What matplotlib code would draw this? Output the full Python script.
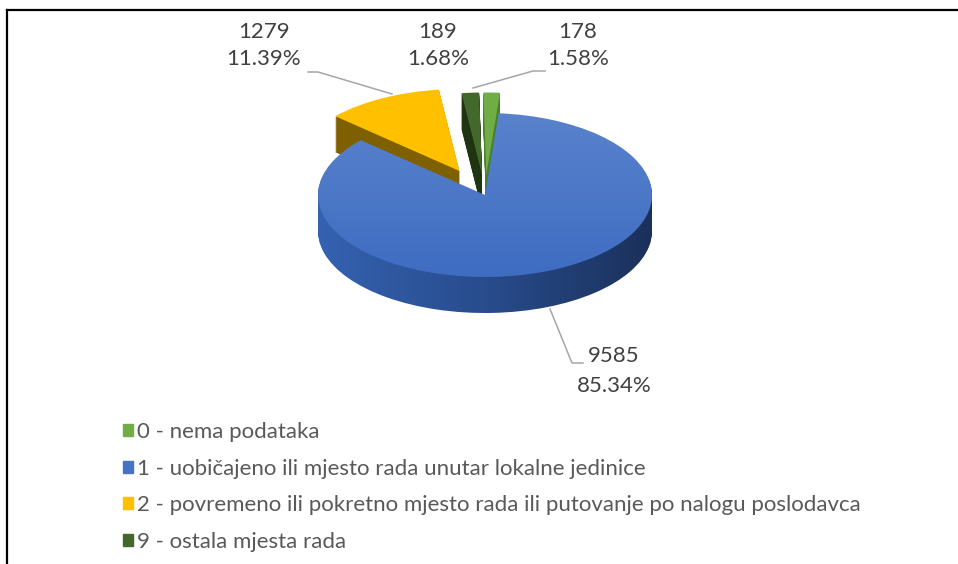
import numpy as np
import matplotlib
matplotlib.use("Agg")
import matplotlib.pyplot as plt
from matplotlib.colors import LinearSegmentedColormap

# data
categories = ["0 - nema podataka",
              "1 - uobičajeno ili mjesto rada unutar lokalne jedinice",
              "2 - povremeno ili pokretno mjesto rada ili putovanje po nalogu poslodavca",
              "9 - ostala mjesta rada"]
counts = [178, 9585, 1279, 189]
percents = ["1.58%", "85.34%", "11.39%", "1.68%"]

top_colors = ["#70ad47", "#4472c4", "#ffc000", "#43682b"]
side_colors = ["#4a7f2c", "#2b4f8f", "#7f6000", "#1f3512"]
explode = [0.25, 0, 0.33, 0.25]

W, H = 958, 564
plt.rcParams['font.family'] = ['Lato', 'DejaVu Sans']

fig = plt.figure(figsize=(W / 100, H / 100), dpi=100)
ax = fig.add_axes([0, 0, 1, 1])

# pie centre and radii in pixels
cx, cy, rx, ry = 485, 195, 167, 82
depth = 36 / ry
n_layers = 36
start = 91

side_cmap = LinearSegmentedColormap.from_list("side", ["#3563b3", "#284c8c", "#1a2f58"])
top_cmap = LinearSegmentedColormap.from_list("top", ["#3e6cc1", "#5a83cd"])
grad_x = np.linspace(0, 1, 256).reshape(1, -1)
grad_y = np.linspace(0, 1, 256).reshape(-1, 1)


def px(x, y):
    return x / W, 1 - y / H


# side walls: stacked copies of the pie, shifted down
for k in range(n_layers, 0, -1):
    off = depth * k / n_layers
    wedges, _ = ax.pie(counts, explode=explode, startangle=start, counterclock=False,
                       colors=side_colors, center=(0, -off),
                       wedgeprops=dict(linewidth=0))
    blue = wedges[1]
    blue.set_facecolor("none")
    im = ax.imshow(grad_x, cmap=side_cmap, aspect="auto",
                   extent=(-1.05, 1.05, -1.6, 0.3), zorder=blue.get_zorder())
    im.set_clip_path(blue)

# top faces
tops, _ = ax.pie(counts, explode=explode, startangle=start, counterclock=False,
                 colors=top_colors, wedgeprops=dict(linewidth=0))
tops[1].set_facecolor("none")
im = ax.imshow(grad_y, cmap=top_cmap, aspect="auto", origin="lower",
               extent=(-1.05, 1.05, -1.05, 1.05), zorder=tops[1].get_zorder())
im.set_clip_path(tops[1])

ax.set_aspect("auto")
ax.set_xlim(-cx / rx, (W - cx) / rx)
ax.set_ylim(-(H - cy) / ry, cy / ry)
ax.axis("off")

# data labels
lab_col = "#404040"
fs = 16
label_pos = {0: (578, 32, 59), 1: (614, 356, 386), 2: (264, 32, 59), 3: (438, 32, 59)}
for i, (x, y1, y2) in label_pos.items():
    fig.text(*px(x, y1), str(counts[i]), ha="center", va="center", fontsize=fs, color=lab_col)
    fig.text(*px(x, y2), percents[i], ha="center", va="center", fontsize=fs, color=lab_col)

leaders = [[(308, 72), (318, 72), (392, 94)],
           [(545, 71), (533, 71), (473, 88)],
           [(550, 309), (572, 363), (583, 363)]]
for pts in leaders:
    xs = [p[0] / W for p in pts]
    ys = [1 - p[1] / H for p in pts]
    fig.add_artist(plt.Line2D(xs, ys, transform=fig.transFigure, color="#a6a6a6", lw=1.1))

# legend
handles = [plt.Rectangle((0, 0), 1, 1, color=c) for c in top_colors]
fig.legend(handles, categories, loc="upper left", bbox_to_anchor=px(123, 422),
           frameon=False, fontsize=fs, labelcolor="#595959",
           handlelength=0.45, handleheight=0.45, handletextpad=0.2,
           labelspacing=0.75, borderpad=0, borderaxespad=0)

# frame
fig.add_artist(plt.Line2D([7 / W, 1], [1 - 10 / H, 1 - 10 / H], transform=fig.transFigure, color="black", lw=1.6))
fig.add_artist(plt.Line2D([7 / W, 7 / W], [1 - 10 / H, 0], transform=fig.transFigure, color="black", lw=1.6))

fig.savefig("out.png", dpi=100)
